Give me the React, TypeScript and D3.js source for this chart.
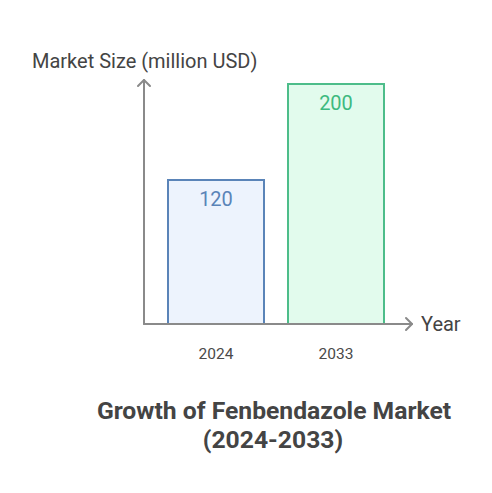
import React from "react";
import * as d3 from "d3";

const categories = ["2024", "2033"];
const values = [120, 200];
const strokeColors = ["#5a84b8", "#4dbd8a"];
const fillColors = ["#edf3fd", "#e2fbed"];
const textColors = ["#5a84b8", "#3dba7f"];

const W = 492;
const H = 493;
const FONT = "Roboto, 'Noto Sans', sans-serif";

export default function App() {
  const x = d3.scaleBand<string>().domain(categories).range([144, 408]).paddingInner(0.2).paddingOuter(0.2);
  const y = d3.scaleLinear().domain([0, 200]).range([324, 84]);
  const x0 = 144;
  const y0 = y(0);
  return (
    <svg width={W} height={H} style={{ position: "absolute", left: 0, top: 0, background: "#fff" }}>
      <rect width={W} height={H} fill="#fff" />
      {categories.map((c, i) => (
        <g key={c}>
          <rect
            x={x(c)!}
            y={y(values[i])}
            width={x.bandwidth()}
            height={y0 - y(values[i])}
            fill={fillColors[i]}
            stroke={strokeColors[i]}
            strokeWidth={2}
          />
          <text
            x={x(c)! + x.bandwidth() / 2}
            y={y(values[i]) + 26}
            textAnchor="middle"
            fontFamily={FONT}
            fontSize={20}
            fill={textColors[i]}
          >
            {values[i]}
          </text>
          <text
            x={x(c)! + x.bandwidth() / 2}
            y={359}
            textAnchor="middle"
            fontFamily={FONT}
            fontSize={15.5}
            fill="#4a4a4a"
          >
            {c}
          </text>
        </g>
      ))}
      {/* axes */}
      <g stroke="#8a8a8a" strokeWidth={2} fill="none" strokeLinecap="round" strokeLinejoin="round">
        <line x1={x0} y1={y0} x2={x0} y2={80} />
        <polyline points={`${x0 - 6},${86} ${x0},${80} ${x0 + 6},${86}`} />
        <line x1={x0} y1={y0} x2={412} y2={y0} />
        <polyline points={`${406},${y0 - 6} ${412},${y0} ${406},${y0 + 6}`} />
      </g>
      <text x={32} y={68} fontFamily={FONT} fontSize={20} fill="#444">
        Market Size (million USD)
      </text>
      <text x={421} y={331} fontFamily={FONT} fontSize={20} fill="#444">
        Year
      </text>
      <text x={274} y={418.5} textAnchor="middle" fontFamily={FONT} fontSize={24.7} fontWeight="bold" fill="#444">
        Growth of Fenbendazole Market
      </text>
      <text x={273} y={448} textAnchor="middle" fontFamily={FONT} fontSize={24.7} fontWeight="bold" fill="#444">
        (2024-2033)
      </text>
    </svg>
  );
}
